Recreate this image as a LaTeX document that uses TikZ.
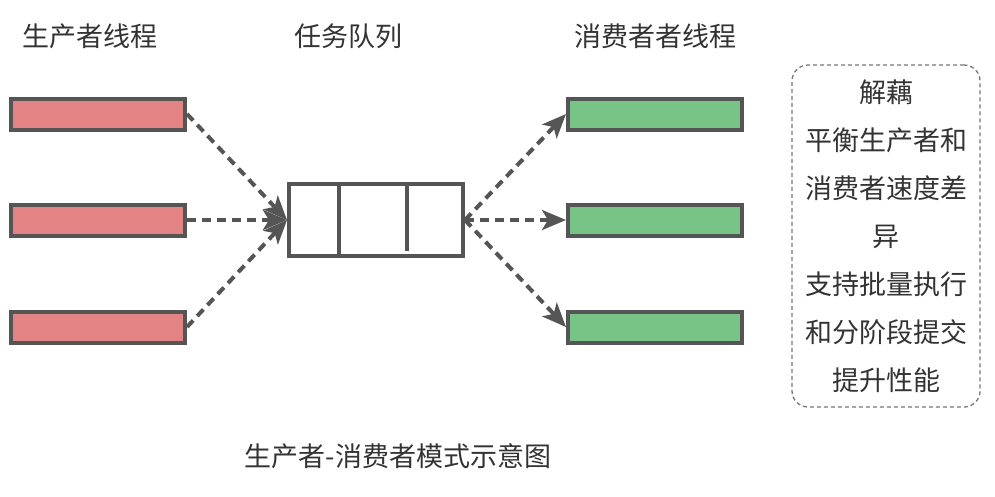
\documentclass[tikz,border=0pt]{standalone}
\usepackage{fontspec}
\setmainfont{Noto Sans CJK SC}
\usepackage{tikz}
\usetikzlibrary{positioning,arrows.meta}
\definecolor{linegray}{HTML}{555555}
\definecolor{textgray}{HTML}{333333}
\definecolor{prodred}{HTML}{E48383}
\definecolor{consgreen}{HTML}{77C486}
\tikzset{
  bar/.style={draw=linegray,line width=4pt,minimum width=174pt,minimum height=31pt,inner sep=0pt},
  prod/.style={bar,fill=prodred},
  cons/.style={bar,fill=consgreen},
  title/.style={text=textgray,font=\fontsize{27}{30}\selectfont},
  flow/.style={draw=linegray,line width=4pt,dash pattern=on 9pt off 6pt,
    -{Stealth[length=24pt,width=20pt,inset=6pt]}},
}

\begin{document}
\begin{tikzpicture}[x=1pt,y=-1pt]
\useasboundingbox (0,0) rectangle (995,496);
% 标题
\node[title] (tprod) at (90,36) {生产者线程};
\node[title] (tqueue) at (348,36) {任务队列};
\node[title] (tcons) at (655,36) {消费者者线程};
\node[title] (caption) at (398,456) {生产者-消费者模式示意图};
% 生产者 / 消费者
\node[prod] (p1) at (98,114) {};
\node[prod] (p2) at (98,220) {};
\node[prod] (p3) at (98,327) {};
\node[cons] (c1) at (655,114) {};
\node[cons] (c2) at (655,220) {};
\node[cons] (c3) at (655,327) {};
% 队列
\node[draw=linegray,line width=4pt,minimum width=174pt,minimum height=72pt,inner sep=0pt] (queue) at (376,220) {};
\draw[linegray,line width=4pt] (339,184) -- (339,256);
\draw[linegray,line width=4pt] (407,184) -- (407,251);
% 箭头
\foreach \p in {p1,p2,p3}
  \draw[flow] (\p.east) -- (queue.west);
\foreach \c in {c1,c2,c3}
  \draw[flow] (queue.east) -- (\c.west);
% 说明
\node[draw=linegray!80,line width=1.3pt,dash pattern=on 4pt off 3pt,rounded corners=16pt,
  minimum width=188pt,minimum height=342pt,align=center,text=textgray,
  font=\fontsize{27}{48}\selectfont] (note) at (886,236)
  {解藕\\平衡生产者和\\消费者速度差\\异\\支持批量执行\\和分阶段提交\\提升性能};
\end{tikzpicture}
\end{document}
